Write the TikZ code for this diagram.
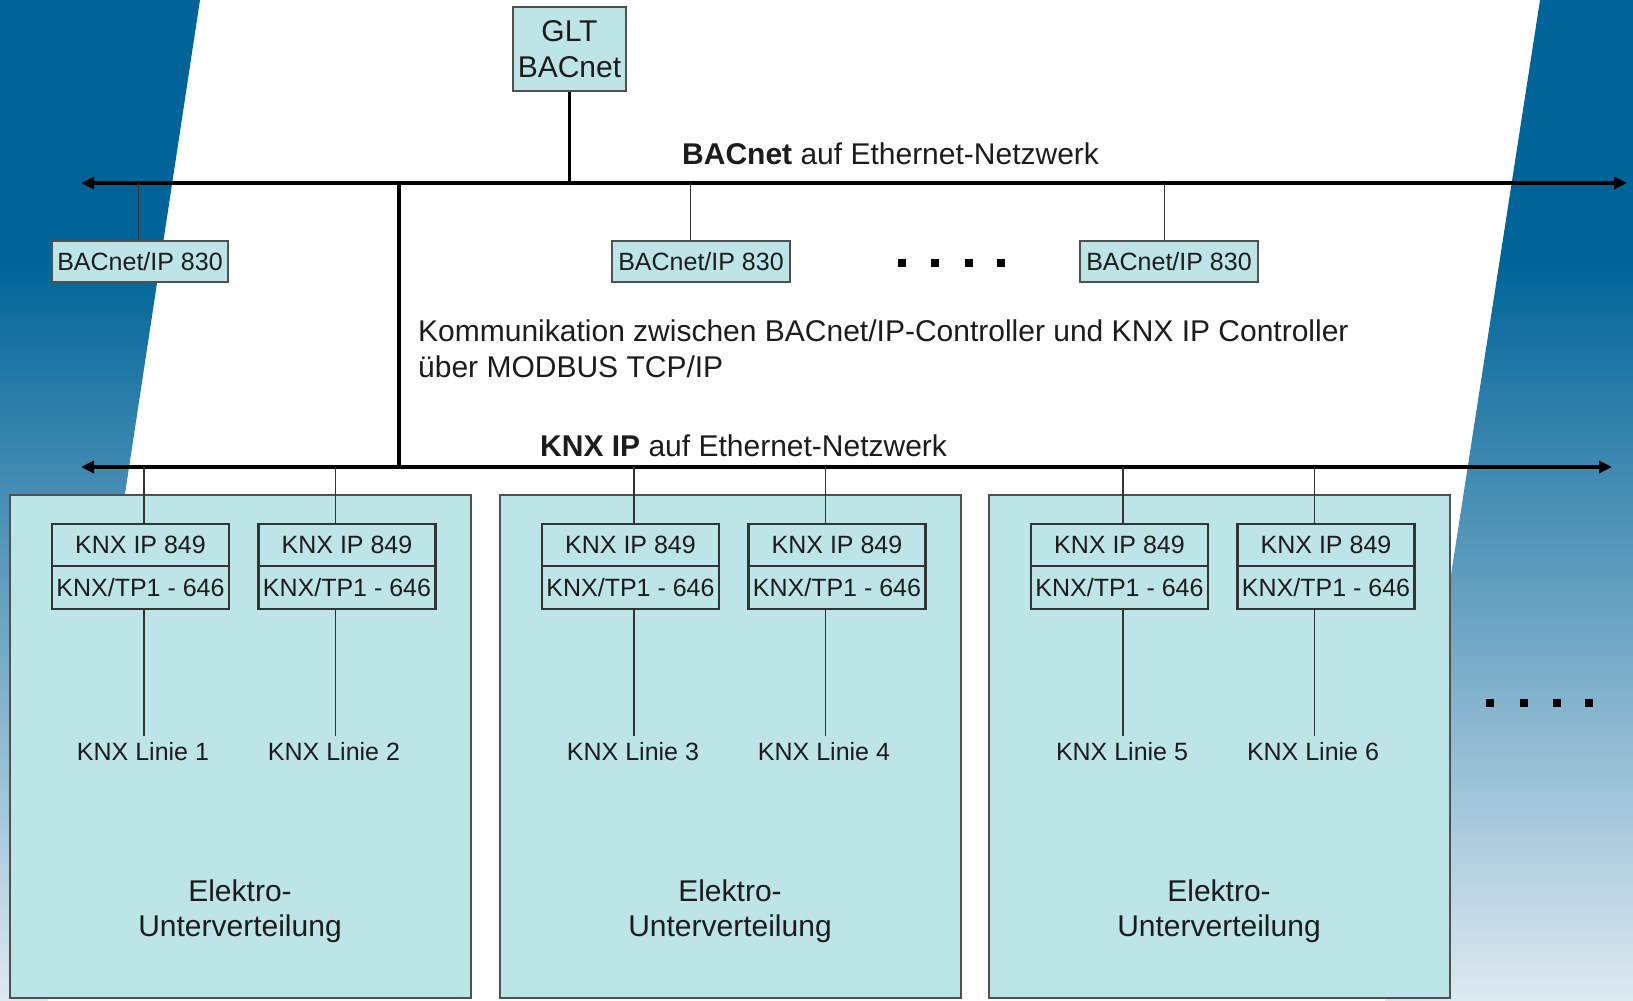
\documentclass[tikz,border=0pt]{standalone}
\usepackage{fontspec}
\setmainfont{Liberation Sans}
\usetikzlibrary{arrows.meta}
\definecolor{bgdark}{RGB}{0,100,152}
\definecolor{bglight}{RGB}{222,233,241}
\definecolor{boxfill}{RGB}{189,228,231}
\definecolor{edgegray}{RGB}{80,80,80}
\definecolor{txt}{RGB}{28,28,28}
\pgfdeclareverticalshading{bgshade}{100bp}{color(0bp)=(bglight); color(25bp)=(bglight); color(62bp)=(bgdark); color(100bp)=(bgdark)}
\newcommand\fsSmall{\fontsize{25}{30}\selectfont}
\newcommand\fsLarge{\fontsize{30}{35.5}\selectfont}
\begin{document}
\begin{tikzpicture}[x=1pt,y=-1pt,
  every node/.style={text=txt},
  smallbox/.style={draw=edgegray, line width=2pt, fill=boxfill, inner sep=0pt, font=\fsSmall},
  bigbox/.style={draw=edgegray, line width=2pt, fill=boxfill, inner sep=0pt, anchor=north west, minimum width=461pt, minimum height=503pt},
  modbox/.style={draw=black!80, line width=2.2pt, fill=boxfill, inner sep=0pt, font=\fsSmall, minimum width=177pt},
  bus/.style={line width=3.5pt, draw=black, arrows={Triangle[length=13pt,width=12pt]-Triangle[length=13pt,width=12pt]}},
  trunk/.style={line width=3.5pt, draw=black},
  stem/.style={line width=1.8pt, draw=black!80},
  lbl/.style={inner xsep=0pt, inner ysep=7pt, font=\fsSmall},
  bigtxt/.style={inner sep=0pt, font=\fsLarge, align=center},
  dotsq/.style={fill=black, minimum size=8pt, inner sep=0pt}
]
\useasboundingbox (0,0) rectangle (1633,1001);
\fill[white] (0,0) rectangle (1633,1001);
\shade[shading=bgshade] (0,0) -- (200,0) -- (48,1001) -- (0,1001) -- cycle;
\shade[shading=bgshade] (1540,0) -- (1633,0) -- (1633,1001) -- (1385,1001) -- cycle;

% GLT
\node[smallbox, font=\fsLarge, align=center, minimum width=113pt, minimum height=84pt] (glt) at (569.5,49) {GLT\\BACnet};

% BACnet bus
\coordinate (bacL) at (81,183);
\coordinate (bacR) at (1627,183);
\draw[bus] (bacL) -- (bacR);
\draw[trunk] (glt.south) -- (glt.south |- bacL);
\node[inner sep=0pt, font=\fsLarge, anchor=west] (baclabel) at (682,154) {\textbf{BACnet} auf Ethernet-Netzwerk};

% BACnet/IP 830 controllers
\node[smallbox, minimum width=176pt, minimum height=41pt] (bip1) at (140,261.5) {BACnet/IP 830};
\node[smallbox, minimum width=178pt, minimum height=41pt] (bip2) at (701,261.5) {BACnet/IP 830};
\node[smallbox, minimum width=178pt, minimum height=41pt] (bip3) at (1169,261.5) {BACnet/IP 830};
\coordinate (tapb1) at (138.5,183);
\coordinate (tapb2) at (690.5,183);
\coordinate (tapb3) at (1164.5,183);
\draw[stem] (tapb1) -- (tapb1 |- bip1.north);
\draw[stem] (tapb2) -- (tapb2 |- bip2.north);
\draw[stem] (tapb3) -- (tapb3 |- bip3.north);

\node[dotsq] (m1) at (902,262.5) {};
\node[dotsq] (m2) at (935,262.5) {};
\node[dotsq] (m3) at (969,262.5) {};
\node[dotsq] (m4) at (1001,262.5) {};

% Communication text
\node[inner sep=0pt, font=\fsLarge, align=left, anchor=west] (comm) at (418,349) {Kommunikation zwischen BACnet/IP-Controller und KNX IP Controller\\über MODBUS TCP/IP};

% KNX bus
\coordinate (knxL) at (81,467);
\coordinate (knxR) at (1612,467);
\coordinate (vtop) at (399,183);
\coordinate (vbot) at (399,467);
\draw[trunk] (vtop) -- (vbot);
\draw[bus] (knxL) -- (knxR);
\node[inner sep=0pt, font=\fsLarge, anchor=west] (knxlabel) at (540,446) {\textbf{KNX IP} auf Ethernet-Netzwerk};

% Distribution boards
\foreach \o/\n/\la/\lb in {0/1/1/2, 490/2/3/4, 979/3/5/6} {
  \node[bigbox] (ev\n) at (9+\o,494) {};
  \node[bigtxt] (evt\n) at (240+\o,911) {Elektro-\\Unterverteilung};
  \node[modbox, minimum height=42pt] (ipa\n) at (140.5+\o,545) {KNX IP 849};
  \node[modbox, minimum height=43pt] (tpa\n) at (140.5+\o,587.5) {KNX/TP1 - 646};
  \node[modbox, minimum height=42pt] (ipb\n) at (347+\o,545) {KNX IP 849};
  \node[modbox, minimum height=43pt] (tpb\n) at (347+\o,587.5) {KNX/TP1 - 646};
  \coordinate (tapa\n) at (144+\o,467);
  \coordinate (tapb\n) at (335.5+\o,467);
  \node[lbl] (lia\n) at (143+\o,752) {KNX Linie \la};
  \node[lbl] (lib\n) at (334+\o,752) {KNX Linie \lb};
  \draw[stem] (tapa\n) -- (tapa\n |- ipa\n.north);
  \draw[stem] (tapb\n) -- (tapb\n |- ipb\n.north);
  \draw[stem] (tapa\n |- tpa\n.south) -- (tapa\n |- lia\n.north);
  \draw[stem] (tapb\n |- tpb\n.south) -- (tapb\n |- lib\n.north);
}

\node[dotsq] (r1) at (1490,703) {};
\node[dotsq] (r2) at (1524,703) {};
\node[dotsq] (r3) at (1557,703) {};
\node[dotsq] (r4) at (1589,703) {};
\end{tikzpicture}
\end{document}
